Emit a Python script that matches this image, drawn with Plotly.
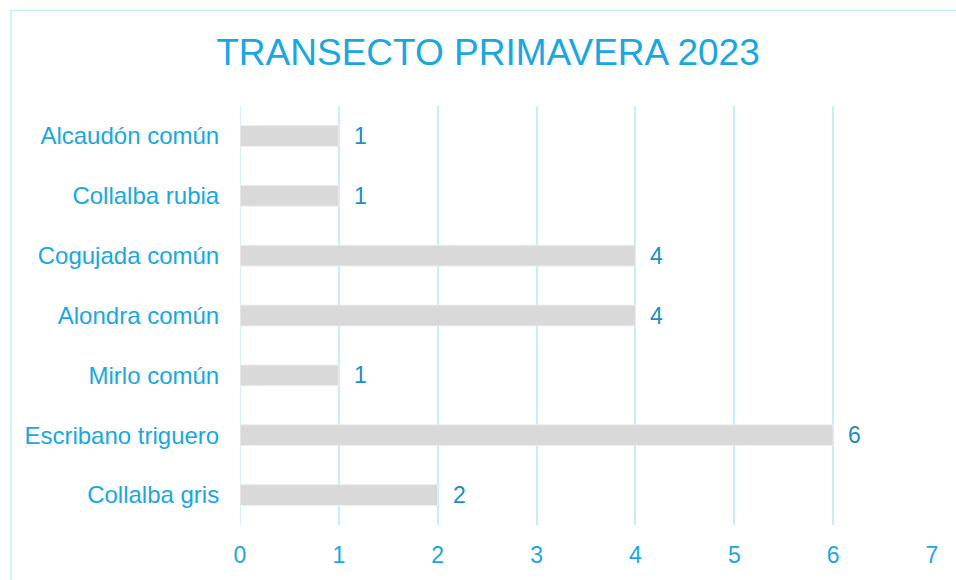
import plotly.graph_objects as go

# Species counted on the spring 2023 transect
species = ["Alcaudón común", "Collalba rubia", "Cogujada común", "Alondra común",
           "Mirlo común", "Escribano triguero", "Collalba gris"]
counts = [1, 1, 4, 4, 1, 6, 2]
x_ticks = [0, 1, 2, 3, 4, 5, 6, 7]

title_blue = "#1AA7E0"
label_blue = "#1A8FC4"
grid_blue = "#C9ECFA"
font_family = "Liberation Sans, Arial, sans-serif"

W, H = 956, 580
ml, mr, mt, mb = 240, 24, 106, 53
pw, ph = W - ml - mr, H - mt - mb

fig = go.Figure()
fig.add_trace(go.Bar(
    x=counts, y=species, orientation="h",
    marker=dict(color="#D9D9D9", line=dict(color="#EFEFEF", width=1)),
    width=0.35, hoverinfo="x+y",
))

# value labels placed just past the end of each bar
for s, c in zip(species, counts):
    fig.add_annotation(x=c, y=s, text=str(c), showarrow=False,
                       xanchor="left", xshift=13, yshift=0,
                       font=dict(family=font_family, size=23, color=label_blue))

# outer frame of the chart
fig.add_shape(type="rect", xref="paper", yref="paper",
              x0=(11 - ml) / pw, x1=1.2, y0=-0.5, y1=(mt - 10) / ph + 1,
              line=dict(color=grid_blue, width=1.5), layer="below")

fig.update_layout(
    width=W, height=H,
    margin=dict(l=ml, r=mr, t=mt, b=mb),
    paper_bgcolor="white", plot_bgcolor="white",
    showlegend=False,
    title=dict(text="TRANSECTO PRIMAVERA 2023", x=488 / W, xanchor="center",
               y=1 - 52 / H, yanchor="middle", yref="container",
               font=dict(family=font_family, size=37, color=title_blue)),
    xaxis=dict(range=[0, 7], tickvals=x_ticks, showgrid=True, gridcolor=grid_blue,
               gridwidth=1.5, zeroline=False, showline=False,
               ticks="outside", ticklen=9, tickcolor="rgba(0,0,0,0)",
               tickfont=dict(family=font_family, size=23, color=title_blue),
               fixedrange=True),
    yaxis=dict(categoryorder="array", categoryarray=species[::-1],
               showgrid=False, zeroline=False, showline=False,
               ticks="outside", ticklen=15, tickcolor="rgba(0,0,0,0)",
               tickfont=dict(family=font_family, size=24, color=title_blue),
               fixedrange=True),
    bargap=0.65,
)
# vertical line at zero drawn like the grid
fig.add_shape(type="line", xref="x", yref="paper", x0=0, x1=0, y0=0, y1=1,
              line=dict(color=grid_blue, width=1.5), layer="below")

fig.write_html("out.html")
